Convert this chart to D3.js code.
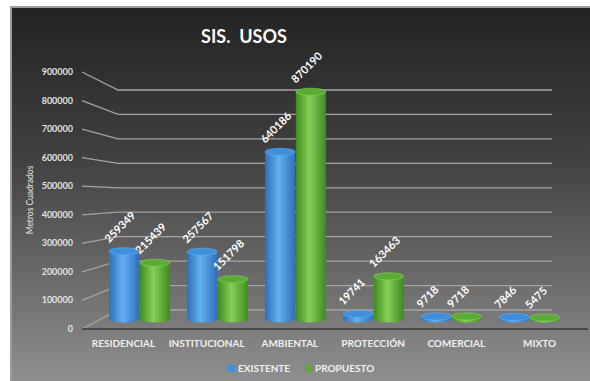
<!DOCTYPE html>
<html>
<head>
<meta charset="utf-8">
<script src="https://cdn.jsdelivr.net/npm/d3@7"></script>
<style>
  html, body { margin: 0; padding: 0; background: #fff; }
  svg { display: block; font-family: Lato, "Open Sans", sans-serif; }
</style>
</head>
<body>
<svg id="chart" width="590" height="381"></svg>
<script>
// Land-use areas (square metres), existing vs proposed
const categories = ["RESIDENCIAL", "INSTITUCIONAL", "AMBIENTAL", "PROTECCIÓN", "COMERCIAL", "MIXTO"];
const seriesNames = ["EXISTENTE", "PROPUESTO"];
const existente = [259349, 257567, 640186, 19741, 9718, 7846];
const propuesto = [215439, 151798, 870190, 163463, 9718, 5475];
const yTicks = [0, 100000, 200000, 300000, 400000, 500000, 600000, 700000, 800000, 900000];

const svg = d3.select("#chart");
const defs = svg.append("defs");

// Panel background: dark at the top fading to grey at the bottom
const bg = defs.append("linearGradient").attr("id", "bg").attr("x1", 0).attr("y1", 0).attr("x2", 0).attr("y2", 1);
bg.append("stop").attr("offset", "0%").attr("stop-color", "#232323");
bg.append("stop").attr("offset", "40%").attr("stop-color", "#404040");
bg.append("stop").attr("offset", "100%").attr("stop-color", "#8f8f8f");

svg.append("rect").attr("x", 10).attr("y", 6).attr("width", 580).attr("height", 375).attr("fill", "url(#bg)");
svg.append("path").attr("d", "M11,381 V7 H590").attr("fill", "none").attr("stroke", "#9a9a9a").attr("stroke-width", 2);

// Cylinder shading gradients
const palette = {
  EXISTENTE: { edge: "#2f6fba", mid: "#63b0f2", top: "#3f8fdc" },
  PROPUESTO: { edge: "#3f8a22", mid: "#86d055", top: "#5aac36" }
};
Object.entries(palette).forEach(([k, c]) => {
  const g = defs.append("linearGradient").attr("id", "cyl-" + k).attr("x1", 0).attr("x2", 1).attr("y1", 0).attr("y2", 0);
  g.append("stop").attr("offset", "0%").attr("stop-color", c.edge);
  g.append("stop").attr("offset", "45%").attr("stop-color", c.mid);
  g.append("stop").attr("offset", "100%").attr("stop-color", c.edge);
});

// Scales: front axis labels, back wall gridlines, bar heights
const yFront = d3.scaleLinear().domain([0, 900000]).range([329, 72]);
const yBack = d3.scaleLinear().domain([0, 900000]).range([310, 90]);
const yBar = d3.scaleLinear().domain([0, 900000]).range([319, 84]);

const x0 = d3.scaleBand().domain(categories).range([100.5, 568.5]).paddingInner(0.22).paddingOuter(0.11);
const x1 = d3.scaleBand().domain(seriesNames).range([0, x0.bandwidth()]).paddingInner(0.02);
const xLabel = d3.scalePoint().domain(categories).range([123.5, 539.5]);

// Title
svg.append("text").attr("x", 244).attr("y", 43).attr("text-anchor", "middle")
  .attr("fill", "#ffffff").attr("font-size", 18).attr("font-weight", 700)
  .attr("xml:space", "preserve").text("SIS.  USOS");

// Gridlines: diagonal from the axis label to the back wall, then across
const grid = svg.append("g");
yTicks.forEach(t => {
  grid.append("path")
    .attr("d", `M82,${yFront(t)} L118,${yBack(t)} H552`)
    .attr("fill", "none").attr("stroke", "#a4a4a4").attr("stroke-width", 1.3);
});
// Floor front edge
svg.append("line").attr("x1", 82).attr("x2", 588).attr("y1", yFront(0)).attr("y2", yFront(0))
  .attr("stroke", "#4a4a4a").attr("stroke-width", 2);

// Y axis labels
svg.append("g").selectAll("text").data(yTicks).join("text")
  .attr("x", 73).attr("y", d => yFront(d) + 3).attr("text-anchor", "end")
  .attr("fill", "#e2e2e2").attr("font-size", 9).attr("font-weight", 700)
  .text(d => d);

svg.append("text").attr("transform", "translate(33,200) rotate(-90)").attr("text-anchor", "middle")
  .attr("fill", "#e6e6e6").attr("font-size", 8.5).text("Metros Cuadrados");

// Cylinders
const rows = categories.map((c, i) => ({ cat: c, vals: [
  { s: "EXISTENTE", v: existente[i] }, { s: "PROPUESTO", v: propuesto[i] }
]}));
const ry = 3.6;
const groups = svg.append("g").selectAll("g").data(rows).join("g")
  .attr("transform", d => `translate(${x0(d.cat)},0)`);

const bars = groups.selectAll("g").data(d => d.vals).join("g");
bars.each(function (d) {
  const g = d3.select(this);
  const w = x1.bandwidth();
  const x = x1(d.s);
  const rx = w / 2;
  const cx = x + rx;
  const yb = yBar(0), yt = yBar(d.v);
  g.append("path")
    .attr("d", `M${x},${yt} V${yb} A${rx},${ry} 0 0 0 ${x + w},${yb} V${yt} Z`)
    .attr("fill", `url(#cyl-${d.s})`);
  g.append("ellipse").attr("cx", cx).attr("cy", yt).attr("rx", rx).attr("ry", ry)
    .attr("fill", palette[d.s].top).attr("stroke", palette[d.s].mid).attr("stroke-width", 0.6);
  g.append("text")
    .attr("transform", `translate(${cx - 15},${yt - 8}) rotate(-45)`)
    .attr("fill", "#ffffff").attr("font-size", 11).attr("font-weight", 700)
    .text(d.v);
});

// Category labels
svg.append("g").selectAll("text").data(categories).join("text")
  .attr("x", d => xLabel(d)).attr("y", 347).attr("text-anchor", "middle")
  .attr("fill", "#f0f0f0").attr("font-size", 10).attr("font-weight", 700)
  .text(d => d);

// Legend
const legend = svg.append("g");
const legendX = [228, 305];
seriesNames.forEach((s, i) => {
  legend.append("rect").attr("x", legendX[i]).attr("y", 365).attr("width", 7).attr("height", 7)
    .attr("fill", palette[s].top);
  legend.append("text").attr("x", legendX[i] + 10).attr("y", 372)
    .attr("fill", "#f0f0f0").attr("font-size", 10).attr("font-weight", 700).text(s);
});
</script>
</body>
</html>
